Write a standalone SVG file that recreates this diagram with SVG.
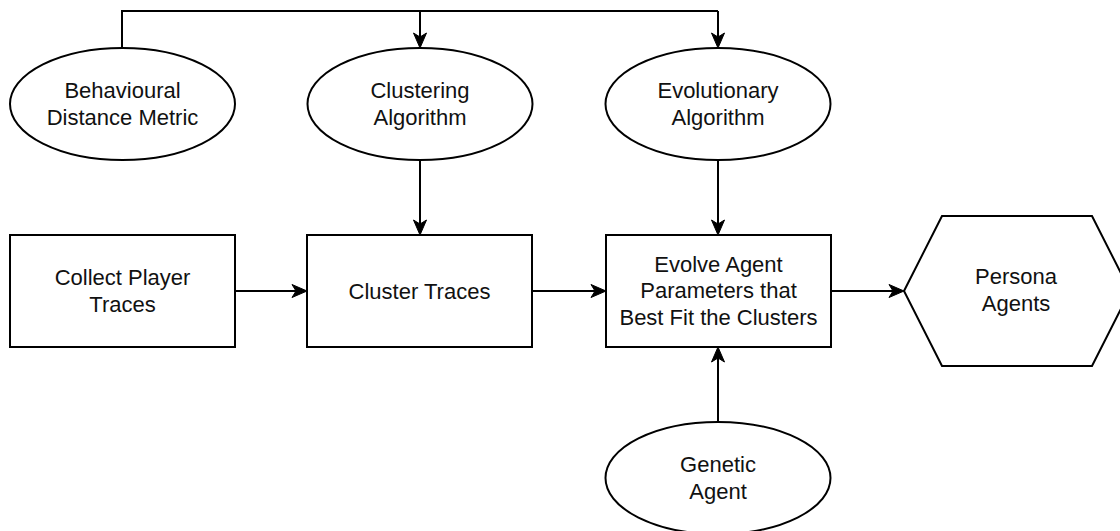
<svg xmlns="http://www.w3.org/2000/svg" width="1120" height="531" viewBox="0 0 1120 531">
  <style>
    .shape { fill: #ffffff; stroke: #000000; stroke-width: 2; }
    .edge { fill: none; stroke: #000000; stroke-width: 2; marker-end: url(#arr); }
    .plain { fill: none; stroke: #000000; stroke-width: 2; }
    .label { font-family: "Liberation Sans", Arial, sans-serif; font-size: 22px; fill: #111111; text-anchor: middle; }
  </style>
  <defs>
    <marker id="arr" viewBox="-17 -8 18 16" markerWidth="18" markerHeight="16" refX="-11" refY="0" orient="auto" markerUnits="userSpaceOnUse">
      <path d="M0,0 L-15,-6.5 L-11,0 L-15,6.5 Z" fill="#000000" stroke="#000000" stroke-width="1" stroke-linejoin="miter"/>
    </marker>
  </defs>
  <rect width="1120" height="531" fill="#ffffff"/>

  <g id="connectors">
    <polyline class="plain" points="122,48 122,11 718,11"/>
    <line class="edge" x1="420" y1="11" x2="420" y2="37"/>
    <line class="edge" x1="718" y1="11" x2="718" y2="37"/>
    <line class="edge" x1="420" y1="160" x2="420" y2="224"/>
    <line class="edge" x1="718" y1="160" x2="718" y2="224"/>
    <line class="edge" x1="235" y1="291" x2="296" y2="291"/>
    <line class="edge" x1="532" y1="291" x2="595" y2="291"/>
    <line class="edge" x1="831" y1="291" x2="893" y2="291"/>
    <line class="edge" x1="718" y1="422" x2="718" y2="358"/>
  </g>

  <g id="behavioural-distance-metric">
    <ellipse class="shape" cx="122.5" cy="104" rx="112.5" ry="56"/>
    <text class="label" x="122.5" y="98">Behavioural</text>
    <text class="label" x="122.5" y="125">Distance Metric</text>
  </g>

  <g id="clustering-algorithm">
    <ellipse class="shape" cx="420" cy="104" rx="112.5" ry="56"/>
    <text class="label" x="420" y="98">Clustering</text>
    <text class="label" x="420" y="125">Algorithm</text>
  </g>

  <g id="evolutionary-algorithm">
    <ellipse class="shape" cx="718" cy="104" rx="112.5" ry="56"/>
    <text class="label" x="718" y="98">Evolutionary</text>
    <text class="label" x="718" y="125">Algorithm</text>
  </g>

  <g id="collect-player-traces">
    <rect class="shape" x="10" y="235" width="225" height="112"/>
    <text class="label" x="122.5" y="285">Collect Player</text>
    <text class="label" x="122.5" y="312">Traces</text>
  </g>

  <g id="cluster-traces">
    <rect class="shape" x="307" y="235" width="225" height="112"/>
    <text class="label" x="419.5" y="299">Cluster Traces</text>
  </g>

  <g id="evolve-agent-parameters">
    <rect class="shape" x="606" y="235" width="225" height="112"/>
    <text class="label" x="718.5" y="272">Evolve Agent</text>
    <text class="label" x="718.5" y="298">Parameters that</text>
    <text class="label" x="718.5" y="325">Best Fit the Clusters</text>
  </g>

  <g id="persona-agents">
    <polygon class="shape" points="904,291 942,216 1092,216 1130,291 1092,366 942,366"/>
    <text class="label" x="1016" y="284">Persona</text>
    <text class="label" x="1016" y="311">Agents</text>
  </g>

  <g id="genetic-agent">
    <ellipse class="shape" cx="718" cy="478" rx="112.5" ry="56"/>
    <text class="label" x="718" y="472">Genetic</text>
    <text class="label" x="718" y="499">Agent</text>
  </g>
</svg>
